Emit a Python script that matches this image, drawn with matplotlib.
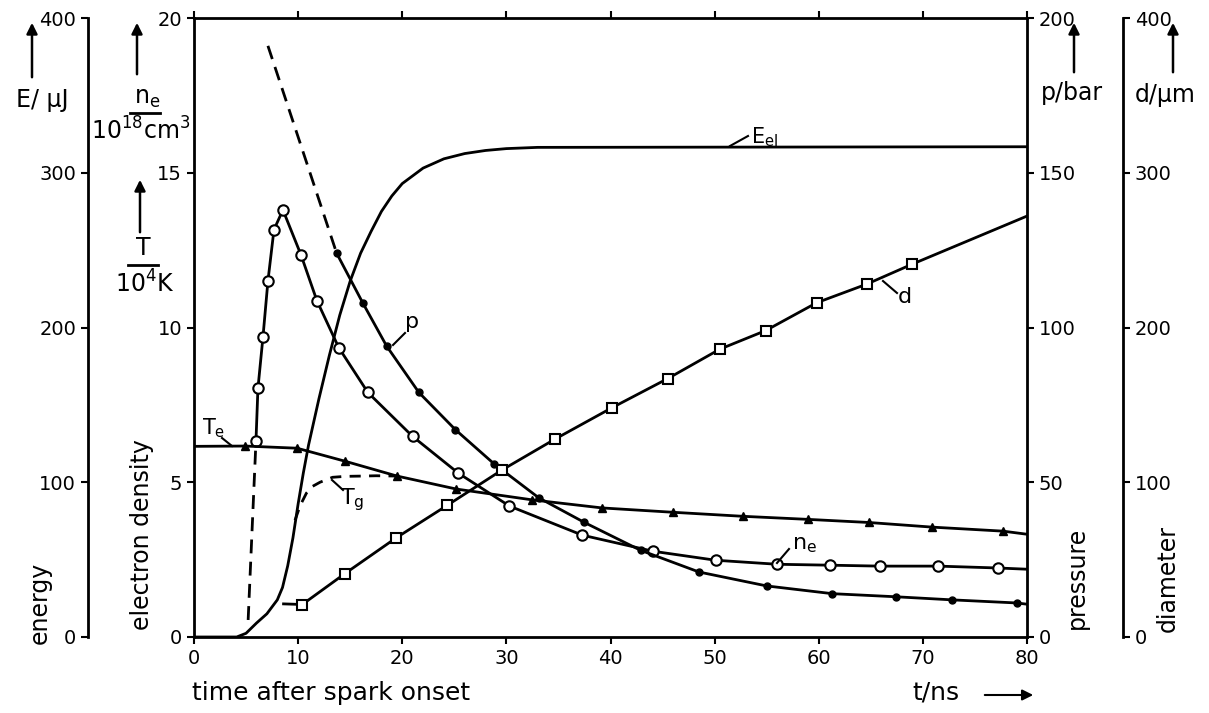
import matplotlib
matplotlib.use('Agg')
import matplotlib.pyplot as plt
from matplotlib.lines import Line2D

# ---------------- data ----------------
# electric energy E_el (uJ)
t_E = [0, 4.1, 5.0, 6.0, 7.0, 8.0, 8.5, 9.0, 9.5, 10.0, 10.5, 11.0, 12.0, 13.0, 14.0,
       15.0, 16.0, 17.0, 18.0, 19.0, 20.0, 22.0, 24.0, 26.0, 28.0, 30.0, 33.0, 80]
E_el = [0, 0, 2.4, 9, 15, 24, 32, 46, 64, 86, 106, 124, 154, 182, 208,
        230, 248, 262, 275, 285, 293, 303, 309, 312.4, 314.4, 315.6, 316.4, 316.8]

# pressure p (bar): dashed early part, then measured points (filled dots)
t_p_dash = [7.1, 13.7]
p_dash = [191, 124]
t_p = [13.7, 16.2, 18.5, 21.6, 25.1, 28.8, 33.1, 37.5, 42.9, 48.5, 55.0, 61.3, 67.4, 72.8, 79.0]
p_vals = [124, 108, 94, 79, 67, 56, 45, 37, 28, 21, 16.5, 14, 13, 12, 11]
t_p_end, p_end = 80, 10.6

# electron density n_e (1e18 cm^-3): dashed early part, then open circles
t_ne_dash = [5.2, 5.95]
ne_dash = [0.55, 6.32]
t_ne = [5.95, 6.14, 6.62, 7.1, 7.68, 8.54, 10.27, 11.8, 13.9, 16.7, 21.0, 25.4, 30.3,
        37.3, 44.1, 50.1, 56.0, 61.1, 65.9, 71.5, 77.2]
ne_vals = [6.32, 8.03, 9.68, 11.5, 13.16, 13.8, 12.35, 10.87, 9.35, 7.9, 6.48, 5.29, 4.23,
           3.29, 2.77, 2.48, 2.35, 2.32, 2.29, 2.29, 2.23]
t_ne_end, ne_end = 80, 2.19

# electron temperature T_e (1e4 K), triangles
t_Te = [0, 4.9, 9.9, 14.5, 19.5, 25.2, 32.5, 39.2, 46.0, 52.7, 59.0, 64.8, 70.9, 77.7, 80]
Te_vals = [6.16, 6.17, 6.1, 5.68, 5.2, 4.78, 4.43, 4.17, 4.03, 3.9, 3.8, 3.7, 3.55, 3.42, 3.32]
Te_marker_t = [4.9, 9.9, 14.5, 19.5, 25.2, 32.5, 39.2, 46.0, 52.7, 59.0, 64.8, 70.9, 77.7]
Te_marker_v = [6.17, 6.1, 5.68, 5.2, 4.78, 4.43, 4.17, 4.03, 3.9, 3.8, 3.7, 3.55, 3.42]

# gas temperature T_g (1e4 K), dashed
t_Tg = [9.7, 10.2, 10.8, 11.4, 12.1, 13.3, 14.5, 16.2, 17.5, 19.5]
Tg_vals = [3.77, 4.25, 4.65, 4.87, 5.0, 5.16, 5.19, 5.2, 5.21, 5.2]

# diameter d (um), open squares
t_d_start, d_start = 8.6, 21.4
t_d = [10.4, 14.5, 19.4, 24.3, 29.6, 34.7, 40.1, 45.5, 50.5, 54.9, 59.8, 64.6, 69.0]
d_vals = [21, 41, 64, 85, 108, 128, 148, 167, 186, 198, 216, 228, 241]
t_d_end, d_end = 80, 272

x_ticks = [0, 10, 20, 30, 40, 50, 60, 70, 80]
ne_ticks = [0, 5, 10, 15, 20]
E_ticks = [0, 100, 200, 300, 400]
p_ticks = [0, 50, 100, 150, 200]
d_ticks = [0, 100, 200, 300, 400]

# ---------------- figure ----------------
plt.rcParams['font.family'] = ['DejaVu Sans']
plt.rcParams['mathtext.default'] = 'regular'
W, H = 1209, 713
fig = plt.figure(figsize=(W / 100, H / 100), dpi=100)
L, R, B, T = 194, 1027, 637, 18
ax = fig.add_axes([L / W, 1 - B / H, (R - L) / W, (B - T) / H])

def fx(x):
    return x / W

def fy(y):
    return 1 - y / H

LW = 2.0
DASH = (0, (5, 3))
TICK = dict(direction='out', length=5, width=1.5, labelsize=14, colors='black')

ax.set_xlim(0, 80)
ax.set_ylim(0, 20)
ax.set_xticks(x_ticks)
ax.set_yticks(ne_ticks)
ax.tick_params(axis='both', **TICK)
ax.tick_params(axis='x', top=True, labeltop=False)
ax.spines['right'].set_visible(False)
for s in ['left', 'bottom', 'top']:
    ax.spines[s].set_linewidth(2)

def make_twin(ylim, ticks, side, pos_px):
    a = ax.twinx()
    a.set_ylim(*ylim)
    a.set_yticks(ticks)
    for s in ['left', 'right', 'top', 'bottom']:
        a.spines[s].set_visible(False)
    if side == 'left':
        a.yaxis.set_ticks_position('left')
    else:
        a.yaxis.set_ticks_position('right')
    a.spines[side].set_visible(True)
    a.spines[side].set_linewidth(2)
    a.spines[side].set_position(('axes', (pos_px - L) / (R - L)))
    a.tick_params(axis='y', **TICK)
    return a

axE = make_twin((0, 400), E_ticks, 'left', 88)
axP = make_twin((0, 200), p_ticks, 'right', R)
axD = make_twin((0, 400), d_ticks, 'right', 1123)

# ---------------- curves ----------------
axE.plot(t_E, E_el, color='black', lw=LW)

axP.plot(t_p_dash, p_dash, color='black', lw=LW, ls=DASH)
axP.plot(t_p + [t_p_end], p_vals + [p_end], color='black', lw=LW)
axP.plot(t_p, p_vals, ls='none', marker='o', ms=5, color='black')

ax.plot(t_ne_dash, ne_dash, color='black', lw=LW, ls=DASH)
ax.plot(t_ne + [t_ne_end], ne_vals + [ne_end], color='black', lw=LW)
ax.plot(t_ne, ne_vals, ls='none', marker='o', ms=7.5, mfc='white', mec='black', mew=1.5)

ax.plot(t_Te, Te_vals, color='black', lw=LW)
ax.plot(Te_marker_t, Te_marker_v, ls='none', marker='^', ms=6, color='black')

ax.plot(t_Tg, Tg_vals, color='black', lw=LW, ls=(0, (4, 3)))

axD.plot([t_d_start] + t_d + [t_d_end], [d_start] + d_vals + [d_end], color='black', lw=LW)
axD.plot(t_d, d_vals, ls='none', marker='s', ms=6.5, mfc='white', mec='black', mew=1.5)

# ---------------- labels ----------------
FS = 17

def txt(x, y, s, **kw):
    kw.setdefault('fontsize', FS)
    kw.setdefault('ha', 'center')
    kw.setdefault('va', 'center')
    fig.text(fx(x), fy(y), s, **kw)

def line(x1, y1, x2, y2, lw=1.5):
    fig.add_artist(Line2D([fx(x1), fx(x2)], [fy(y1), fy(y2)], color='black', lw=lw,
                          transform=fig.transFigure))

def arrow_up(x, y0, y1):
    fig.add_artist(matplotlib.patches.FancyArrowPatch(
        (fx(x), fy(y0)), (fx(x), fy(y1)), transform=fig.transFigure,
        arrowstyle='-|>', mutation_scale=16, lw=1.8, color='black'))

# left side
arrow_up(32, 80, 20)
txt(42, 100, 'E/ µJ')
txt(40, 603, 'energy', rotation=90)

arrow_up(137, 77, 20)
txt(147, 98, r'n$_e$')
line(130, 113, 160, 113, lw=2)
txt(141, 131, r'10$^{18}$cm$^3$')

arrow_up(140, 235, 177)
txt(143, 248, 'T')
line(128, 265, 158, 265, lw=2)
txt(145, 284, r'10$^4$K')

txt(142, 535, 'electron density', rotation=90)

# right side
arrow_up(1074, 75, 20)
txt(1072, 93, 'p/bar')
arrow_up(1173, 75, 20)
txt(1165, 95, 'd/µm')
txt(1077, 578, 'pressure', rotation=90)
txt(1168, 578, 'diameter', rotation=90)

# bottom
txt(192, 693, 'time after spark onset', ha='left', fontsize=18)
txt(912, 693, 't/ns', ha='left', fontsize=18)
fig.add_artist(matplotlib.patches.FancyArrowPatch(
    (fx(982), fy(695)), (fx(1036), fy(695)), transform=fig.transFigure,
    arrowstyle='-|>', mutation_scale=16, lw=1.5, color='black'))

# curve labels with leader lines
txt(765, 137, r'E$_{el}$', fontsize=15)
line(730, 146, 748, 136)
txt(412, 322, 'p', fontsize=16)
line(393, 345, 405, 333)
txt(905, 297, 'd', fontsize=16)
line(883, 281, 897, 293)
txt(805, 545, r'n$_e$', fontsize=16)
line(777, 563, 789, 549)
txt(214, 428, r'T$_e$', fontsize=15)
line(222, 438, 232, 446)
txt(352, 500, r'T$_g$', fontsize=16)
line(332, 480, 343, 490)

fig.savefig('out.png', dpi=100)
